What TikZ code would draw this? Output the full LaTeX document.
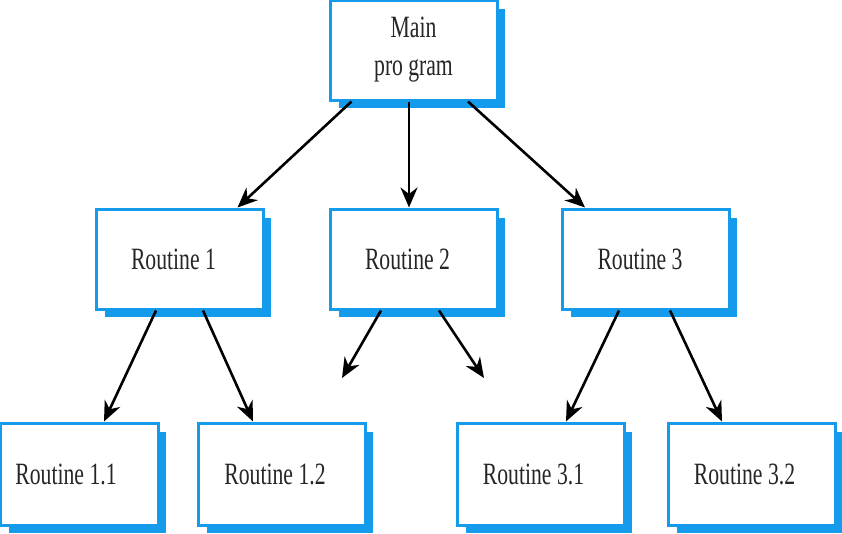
\documentclass[tikz,border=0pt]{standalone}
\usepackage{fontspec}
\newfontfamily\boxfont[FakeStretch=0.7]{Liberation Serif}
\usetikzlibrary{arrows.meta,shadows}
\definecolor{boxblue}{RGB}{20,155,235}
\tikzset{
  rbox/.style={draw=boxblue, line width=3pt, fill=white, minimum width=167pt, minimum height=100pt,
    inner sep=0pt, align=center, font=\boxfont\fontsize{31}{38}\selectfont, text=black!85,
    drop shadow={shadow xshift=8pt, shadow yshift=-8pt, fill=boxblue, draw=white, line width=0.8pt, opacity=1}},
  arr/.style={draw=black, line width=2.6pt, -{Stealth[length=20pt,width=17pt]}}
}
\begin{document}
\begin{tikzpicture}[x=1pt,y=-1pt]
\useasboundingbox (0,0) rectangle (842,533);
\node[rbox] (main) at (413.5,50) {Main\\pro\,gram};
\node[rbox] (r1) at (179.5,259) {\hspace*{-12pt}Routine 1};
\node[rbox] (r2) at (413.5,259) {\hspace*{-12pt}Routine 2};
\node[rbox] (r3) at (646,259) {\hspace*{-12pt}Routine 3};
\node[rbox, minimum width=158pt, minimum height=102pt] (r11) at (79,474) {\hspace*{-26pt}Routine 1.1};
\node[rbox, minimum height=102pt] (r12) at (282,474) {\hspace*{-14pt}Routine 1.2};
\node[rbox, minimum height=102pt] (r31) at (540.5,474) {\hspace*{-14pt}Routine 3.1};
\node[rbox, minimum height=102pt] (r32) at (751.5,474) {\hspace*{-14pt}Routine 3.2};
\coordinate (f1) at (342,378);
\coordinate (f2) at (484,378);
\draw[arr] ([xshift=-62pt]main.south) -- ([xshift=58pt]r1.north);
\draw[arr] ([xshift=-4.5pt]main.south) -- ([xshift=-4.5pt]r2.north);
\draw[arr] ([xshift=54.5pt]main.south) -- ([xshift=-61pt]r3.north);
\draw[arr] ([xshift=-23.5pt]r1.south) -- ([xshift=25pt]r11.north);
\draw[arr] ([xshift=23.5pt]r1.south) -- ([xshift=-29pt]r12.north);
\draw[arr] ([xshift=-32.5pt]r2.south) -- (f1);
\draw[arr] ([xshift=25.5pt]r2.south) -- (f2);
\draw[arr] ([xshift=-27pt]r3.south) -- ([xshift=25.5pt]r31.north);
\draw[arr] ([xshift=24pt]r3.south) -- ([xshift=-29.5pt]r32.north);
\end{tikzpicture}
\end{document}
